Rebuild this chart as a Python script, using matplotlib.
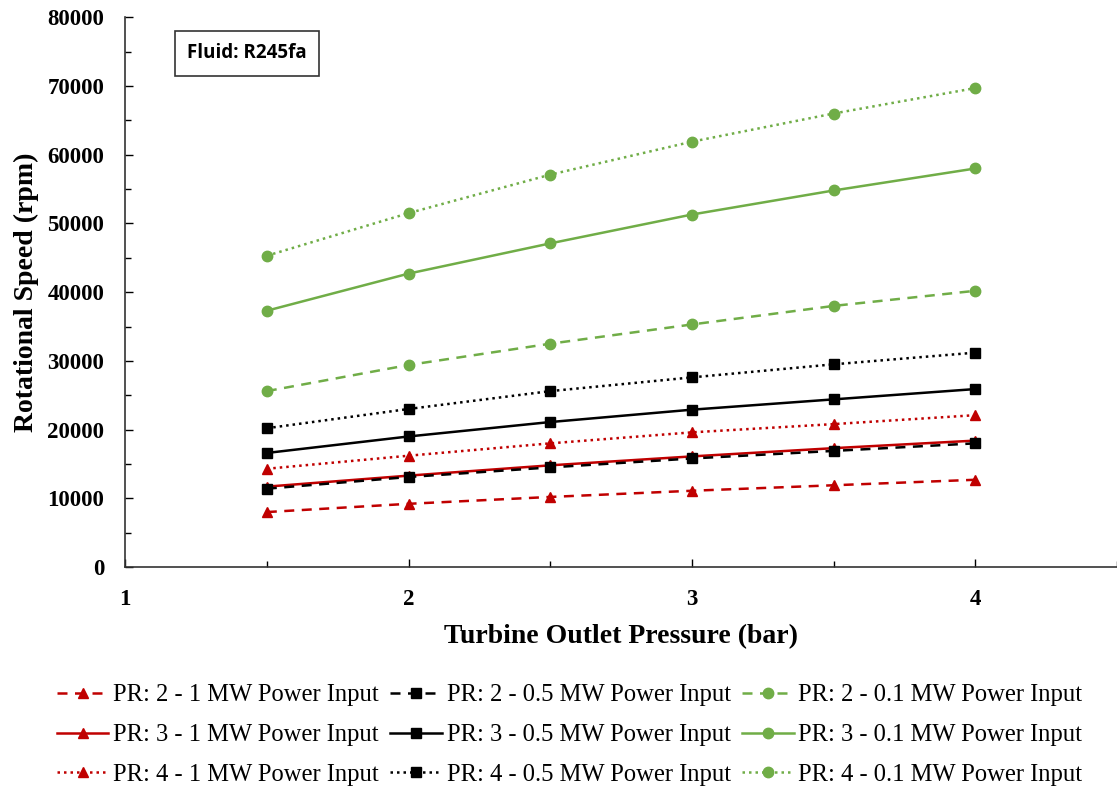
import matplotlib
matplotlib.use('Agg')
import matplotlib.pyplot as plt
from matplotlib.ticker import MultipleLocator

plt.rcParams['font.family'] = 'Liberation Serif'

# data
pressure = [1.5, 2.0, 2.5, 3.0, 3.5, 4.0]

pr2_1mw = [8000, 9200, 10200, 11100, 11900, 12700]
pr3_1mw = [11700, 13300, 14800, 16100, 17300, 18400]
pr4_1mw = [14300, 16200, 18000, 19600, 20800, 22100]

pr2_05mw = [11400, 13100, 14500, 15800, 16900, 18000]
pr3_05mw = [16600, 19000, 21100, 22900, 24400, 25900]
pr4_05mw = [20200, 23000, 25600, 27600, 29500, 31200]

pr2_01mw = [25600, 29400, 32500, 35300, 38000, 40200]
pr3_01mw = [37300, 42700, 47100, 51300, 54800, 58000]
pr4_01mw = [45300, 51500, 57100, 61900, 66000, 69700]

red = '#C00000'
black = '#000000'
green = '#70AD47'

dash = (4, 3)
dot = (1, 1.6)

# (values, label, color, marker, linestyle) -- column order for legend
series = [
    (pr2_1mw, 'PR: 2 - 1 MW Power Input', red, '^', dash),
    (pr3_1mw, 'PR: 3 - 1 MW Power Input', red, '^', None),
    (pr4_1mw, 'PR: 4 - 1 MW Power Input', red, '^', dot),
    (pr2_05mw, 'PR: 2 - 0.5 MW Power Input', black, 's', dash),
    (pr3_05mw, 'PR: 3 - 0.5 MW Power Input', black, 's', None),
    (pr4_05mw, 'PR: 4 - 0.5 MW Power Input', black, 's', dot),
    (pr2_01mw, 'PR: 2 - 0.1 MW Power Input', green, 'o', dash),
    (pr3_01mw, 'PR: 3 - 0.1 MW Power Input', green, 'o', None),
    (pr4_01mw, 'PR: 4 - 0.1 MW Power Input', green, 'o', dot),
]

fig = plt.figure(figsize=(11.17, 7.87), dpi=100)
ax = fig.add_axes([0.112, 0.2795, 0.888, 0.6985])

for vals, lab, col, mk, ls in series:
    line, = ax.plot(pressure, vals, color=col, marker=mk, markersize=7.5,
                    linewidth=1.8, label=lab)
    if ls is not None:
        line.set_dashes(ls)

ax.set_xlim(1, 4.5)
ax.set_ylim(0, 80000)
ax.set_xticks([1, 2, 3, 4])
ax.xaxis.set_minor_locator(MultipleLocator(0.5))
ax.yaxis.set_major_locator(MultipleLocator(10000))
ax.yaxis.set_minor_locator(MultipleLocator(5000))

ax.spines['top'].set_visible(False)
ax.spines['right'].set_visible(False)
for s in ['left', 'bottom']:
    ax.spines[s].set_linewidth(1.2)
    ax.spines[s].set_color('#333333')

ax.tick_params(which='major', direction='in', length=6, width=1)
ax.tick_params(which='minor', direction='in', length=4, width=1)
ax.tick_params(axis='y', pad=15)
ax.tick_params(axis='x', pad=16)
for lbl in ax.get_xticklabels() + ax.get_yticklabels():
    lbl.set_fontsize(16.5)
    lbl.set_fontweight('bold')

ax.set_xlabel('Turbine Outlet Pressure (bar)', fontsize=20, fontweight='bold', labelpad=10)
ax.set_ylabel('Rotational Speed (rpm)', fontsize=20, fontweight='bold', labelpad=6)

ax.text(0.0625, 0.9345, 'Fluid: R245fa', transform=ax.transAxes, fontsize=13.5,
        fontweight='bold', family='Open Sans', va='center', ha='left',
        bbox=dict(boxstyle='square,pad=0.65', facecolor='white', edgecolor='#333333', linewidth=1.2))

fig.legend(loc='center', bbox_to_anchor=(0.51, 0.066), ncol=3, frameon=False,
           fontsize=17.7, handlelength=2.1, handletextpad=0.2, columnspacing=0.45,
           labelspacing=0.72)

fig.savefig('out.png', dpi=100)
